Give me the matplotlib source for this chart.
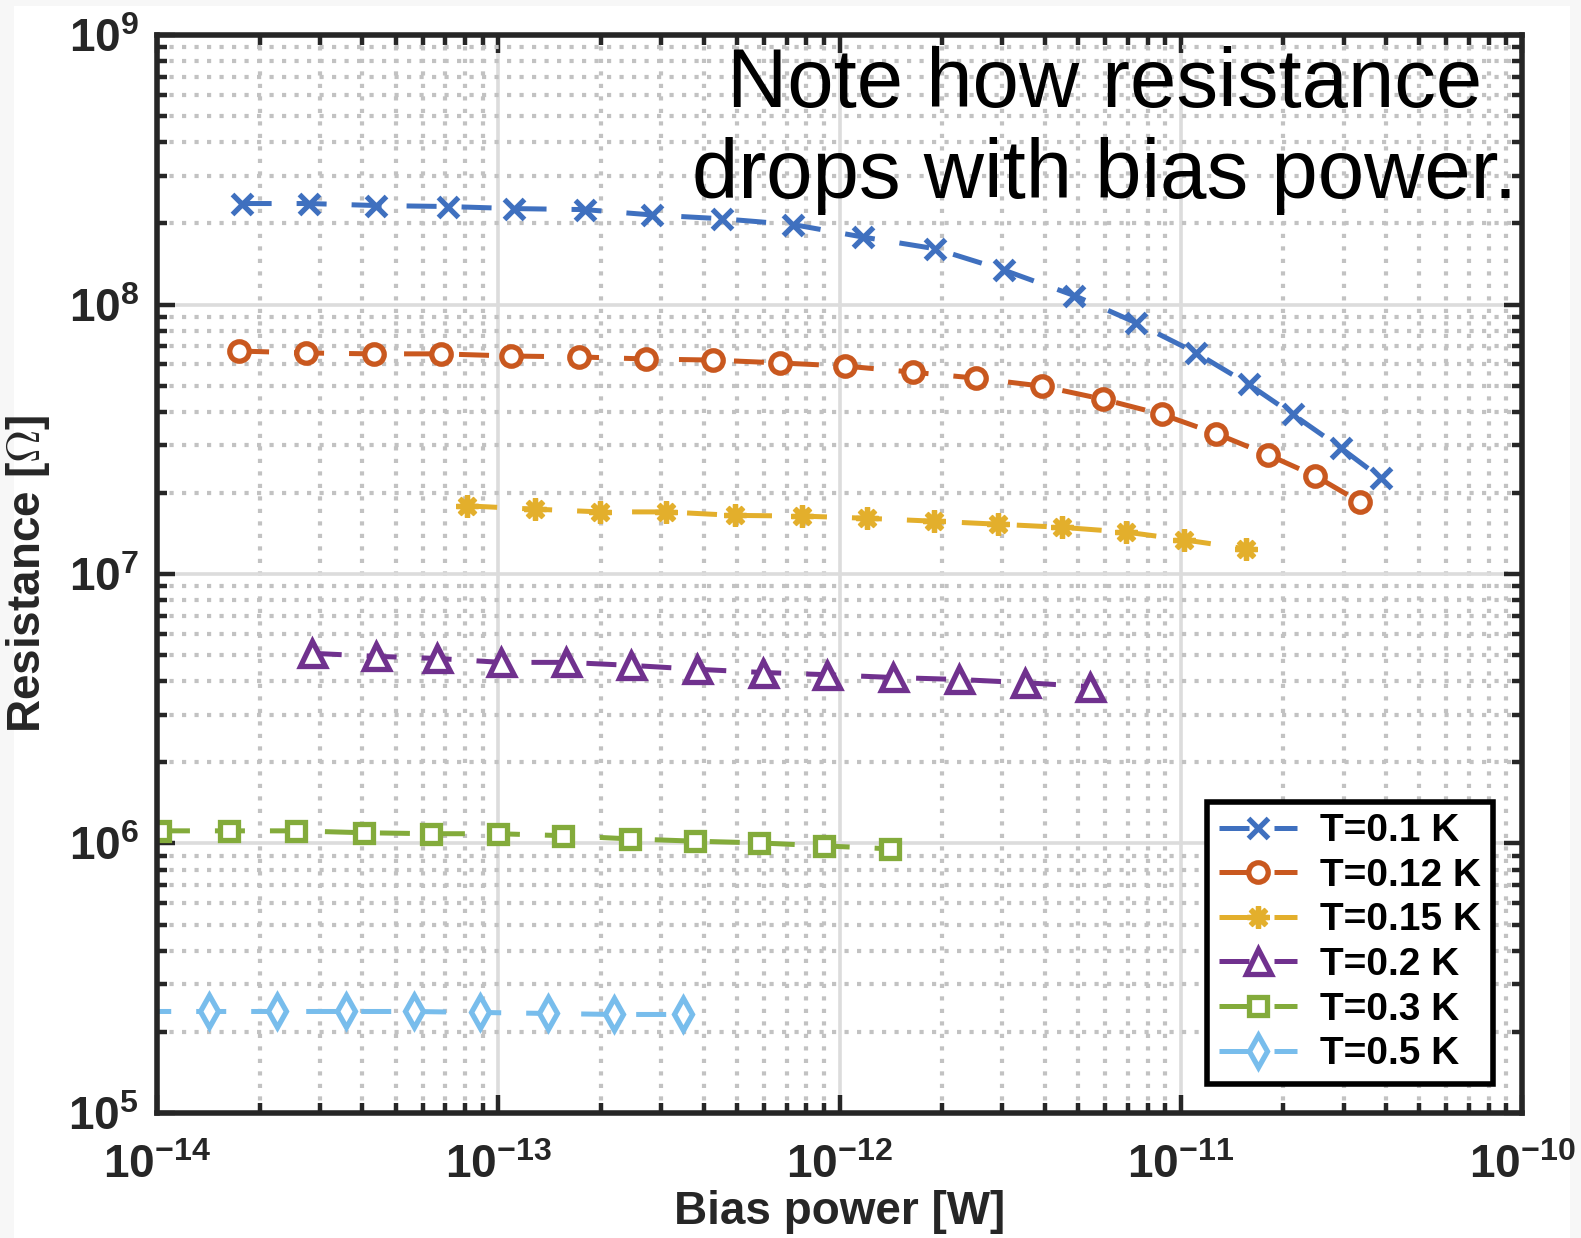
import numpy as np
import matplotlib; matplotlib.use("Agg")
import matplotlib.pyplot as plt
from matplotlib.patches import Rectangle

# bias power [W] and resistance [Ohm] per bath temperature
labels = ["T=0.1 K", "T=0.12 K", "T=0.15 K", "T=0.2 K", "T=0.3 K", "T=0.5 K"]

p_010 = [1.77e-14, 2.79e-14, 4.39e-14, 7.13e-14, 1.11e-13, 1.79e-13, 2.82e-13, 4.54e-13,
         7.32e-13, 1.17e-12, 1.91e-12, 3.04e-12, 4.87e-12, 7.38e-12, 1.11e-11, 1.58e-11,
         2.13e-11, 2.94e-11, 3.86e-11]
r_010 = [2.37e8, 2.37e8, 2.33e8, 2.31e8, 2.27e8, 2.25e8, 2.15e8, 2.08e8, 1.98e8, 1.78e8,
         1.61e8, 1.34e8, 1.08e8, 8.57e7, 6.61e7, 5.06e7, 3.91e7, 2.94e7, 2.27e7]

p_012 = [1.74e-14, 2.73e-14, 4.31e-14, 6.79e-14, 1.09e-13, 1.72e-13, 2.71e-13, 4.25e-13,
         6.70e-13, 1.04e-12, 1.64e-12, 2.51e-12, 3.91e-12, 5.93e-12, 8.81e-12, 1.27e-11,
         1.80e-11, 2.48e-11, 3.35e-11]
r_012 = [6.72e7, 6.61e7, 6.56e7, 6.56e7, 6.44e7, 6.39e7, 6.28e7, 6.22e7, 6.07e7, 5.91e7,
         5.61e7, 5.33e7, 4.98e7, 4.45e7, 3.91e7, 3.32e7, 2.77e7, 2.31e7, 1.85e7]

p_015 = [8.11e-14, 1.28e-13, 1.99e-13, 3.10e-13, 4.93e-13, 7.79e-13, 1.20e-12, 1.89e-12,
         2.92e-12, 4.48e-12, 6.93e-12, 1.02e-11, 1.55e-11]
r_015 = [1.79e7, 1.74e7, 1.70e7, 1.70e7, 1.65e7, 1.64e7, 1.61e7, 1.57e7, 1.53e7, 1.49e7,
         1.43e7, 1.34e7, 1.24e7]

p_020 = [2.84e-14, 4.37e-14, 6.61e-14, 1.02e-13, 1.58e-13, 2.45e-13, 3.83e-13, 5.97e-13,
         9.18e-13, 1.43e-12, 2.24e-12, 3.49e-12, 5.43e-12]
r_020 = [5.08e6, 4.95e6, 4.86e6, 4.70e6, 4.70e6, 4.58e6, 4.43e6, 4.31e6, 4.23e6, 4.13e6,
         4.06e6, 3.95e6, 3.82e6]

p_030 = [1.02e-14, 1.63e-14, 2.56e-14, 4.05e-14, 6.35e-14, 1.00e-13, 1.55e-13, 2.43e-13,
         3.76e-13, 5.81e-13, 8.99e-13, 1.41e-12]
r_030 = [1.114e6, 1.114e6, 1.114e6, 1.096e6, 1.087e6, 1.087e6, 1.069e6, 1.04e6, 1.02e6,
         1.005e6, 9.8e5, 9.55e5]

p_050 = [8.99e-15, 1.42e-14, 2.25e-14, 3.58e-14, 5.65e-14, 8.87e-14, 1.40e-13, 2.19e-13, 3.48e-13]
r_050 = [2.38e5, 2.38e5, 2.38e5, 2.38e5, 2.38e5, 2.36e5, 2.34e5, 2.32e5, 2.32e5]

powers = [p_010, p_012, p_015, p_020, p_030, p_050]
resist = [r_010, r_012, r_015, r_020, r_030, r_050]
colors = ["#3f70bf", "#c9581f", "#e3af2c", "#70318e", "#83ab3b", "#78bdec"]
markers = ["x", "o", (8, 2, 0), "^", "s", "d"]
msizes = [14, 14, 16, 18, 12.5, 16]
filled = [True, False, True, False, False, False]

plt.rcParams.update({"font.family": "Liberation Sans", "font.weight": "bold",
                     "axes.unicode_minus": False, "font.size": 30,
                     "mathtext.fontset": "cm"})
INK = "#262626"

fig = plt.figure(figsize=(15.81, 12.38), dpi=100, facecolor="#f7f7f7")
fig.patches.append(Rectangle((14/1581, 0), 1556/1581, 1 - 6/1238, transform=fig.transFigure,
                             facecolor="white", edgecolor="none", zorder=-10))
ax = fig.add_axes([0.0993, 0.101, 0.8634, 0.8707])

for p, r, c, m, ms, f, lab in zip(powers, resist, colors, markers, msizes, filled, labels):
    ax.plot(p, r, color=c, lw=3.6, dashes=(6, 5), marker=m, ms=ms, mew=3.8,
            mfc=c if f else "white", mec=c, label=lab, clip_on=True)

ax.set_xscale("log"); ax.set_yscale("log")
ax.set_xlim(1e-14, 1e-10); ax.set_ylim(1e5, 1e9)
ax.set_axisbelow(True)
ax.grid(which="major", color="#dcdcdc", lw=2.6, ls="-")
ax.grid(which="minor", color="#c2c2c2", lw=3.0, ls=(0, (1, 2)))
ax.tick_params(which="both", direction="in", top=True, right=True, color=INK,
               labelcolor=INK, labelsize=33, width=3.2)
ax.tick_params(which="major", length=13)
ax.tick_params(which="minor", length=7)
ax.tick_params(axis="x", which="major", pad=22)
ax.tick_params(axis="y", which="major", pad=13)
for s in ax.spines.values():
    s.set_linewidth(4); s.set_color(INK)

ax.set_xlabel("Bias power [W]", fontsize=33, fontweight="bold", color=INK, labelpad=2)
ax.set_ylabel(r"Resistance [$\mathit{\Omega}$]", fontsize=33, fontweight="bold", color=INK,
              labelpad=12)

ax.text(0.694, 0.99, "Note how resistance\ndrops with bias power.", transform=ax.transAxes,
        ha="center", va="top", fontsize=60, fontweight="normal", color="black",
        linespacing=1.22)

leg = ax.legend(loc="lower right", fontsize=28, handlelength=2.0, handletextpad=0.6,
                labelspacing=0.22, borderaxespad=0.75, borderpad=0.3, fancybox=False,
                framealpha=1, edgecolor="black")
leg.get_frame().set_linewidth(4)
for t in leg.get_texts():
    t.set_color("black")

fig.savefig("out.png", dpi=100, facecolor=fig.get_facecolor())
